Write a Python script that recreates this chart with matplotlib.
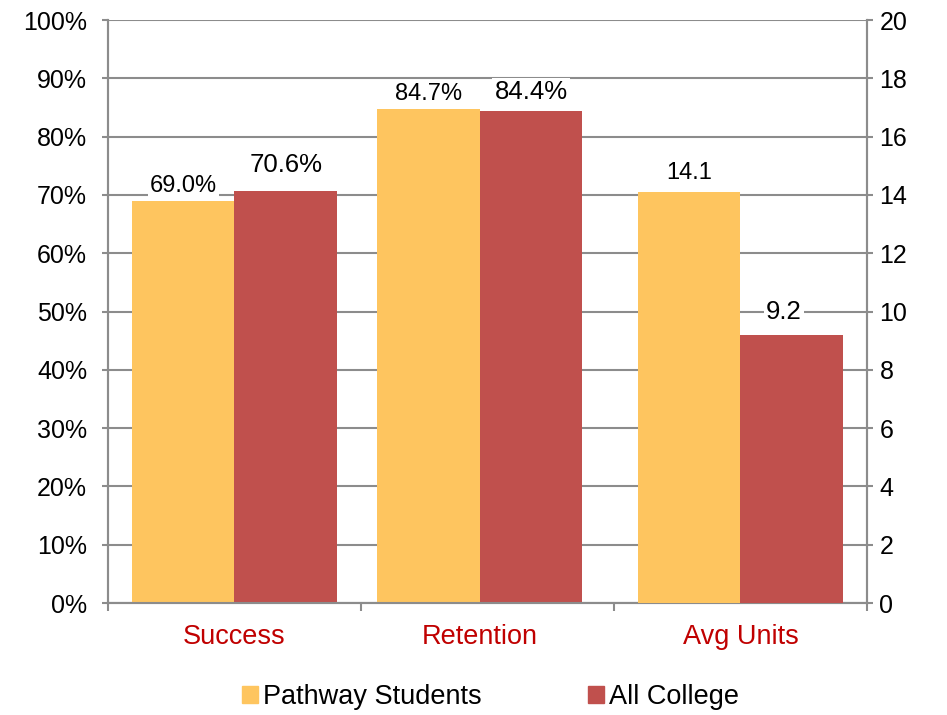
from matplotlib import pyplot as plt
from matplotlib.patches import Patch
import numpy as np

categories = ['Success', 'Retention', 'Avg Units']
pathway_pct = [69.0, 84.7]
college_pct = [70.6, 84.4]
pathway_units = 14.1
college_units = 9.2
series_names = ['Pathway Students', 'All College']

yellow = '#FEC55F'
red = '#C0504D'
grey = '#8C8C8C'

plt.rcParams['font.family'] = ['Liberation Sans', 'DejaVu Sans']

fig = plt.figure(figsize=(9.47, 7.15), dpi=100)
ax = fig.add_axes([0.114, 0.1566, 0.8015, 0.8154])
ax2 = ax.twinx()

w = 0.405
x = np.array([0, 0.97, 2])

ax.bar(x[:2] - w / 2, pathway_pct, w, color=yellow, zorder=3)
ax.bar(x[:2] + w / 2, college_pct, w, color=red, zorder=3)
ax2.bar(x[2] - w / 2, pathway_units, w, color=yellow, zorder=3)
ax2.bar(x[2] + w / 2, college_units, w, color=red, zorder=3)

ax.set_xlim(-0.5, 2.5)
ax.set_ylim(0, 100)
ax2.set_ylim(0, 20)
ax.set_yticks(np.arange(0, 101, 10))
ax.set_yticklabels([f'{v}%' for v in range(0, 101, 10)])
ax2.set_yticks(np.arange(0, 21, 2))

ax.grid(axis='y', color=grey, linewidth=1.5, zorder=0)
ax.set_axisbelow(True)
ax2.set_zorder(ax.get_zorder() + 1)
ax2.patch.set_visible(False)

for a in (ax, ax2):
    a.spines['top'].set_visible(False)
    for s in ('left', 'right', 'bottom'):
        a.spines[s].set_color(grey)
        a.spines[s].set_linewidth(1.5)
    a.tick_params(axis='y', colors=grey, labelcolor='black', labelsize=18,
                  length=4, width=1.5)
ax.tick_params(axis='y', pad=11)
ax2.tick_params(axis='y', pad=5)

ax.set_xticks(x)
ax.set_xticklabels(categories, color='#C00000', fontsize=19.5)
ax.tick_params(axis='x', length=0, pad=15)
ax.set_xticks([-0.5, 0.5, 1.5, 2.5], minor=True)
ax.tick_params(axis='x', which='minor', length=6, width=1.5, color=grey)

box = dict(facecolor='white', edgecolor='none', pad=1.5)
for i in range(2):
    ax.text(x[i] - w / 2, pathway_pct[i] + 2.6, f'{pathway_pct[i]:.1f}%',
            ha='center', va='center', fontsize=17, bbox=box, zorder=5)
    ax.text(x[i] + w / 2, college_pct[i] + 4.5 if i == 0 else college_pct[i] + 3.3,
            f'{college_pct[i]:.1f}%', ha='center', va='center', fontsize=18.5,
            bbox=box, zorder=5)
ax2.text(x[2] - w / 2, pathway_units + 0.65, f'{pathway_units:.1f}',
         ha='center', va='center', fontsize=17, bbox=box, zorder=5)
ax2.text(x[2] + w / 2 - 0.03, college_units + 0.8, f'{college_units:.1f}',
         ha='center', va='center', fontsize=18.5, bbox=box, zorder=5)

handles = [Patch(color=yellow), Patch(color=red)]
fig.legend(handles, series_names, loc='center', bbox_to_anchor=(0.518, 0.025),
           ncol=2, frameon=False, fontsize=19.5, handlelength=0.6,
           handleheight=0.6, handletextpad=0.2, columnspacing=3.9)

plt.savefig('out.png', dpi=100)
